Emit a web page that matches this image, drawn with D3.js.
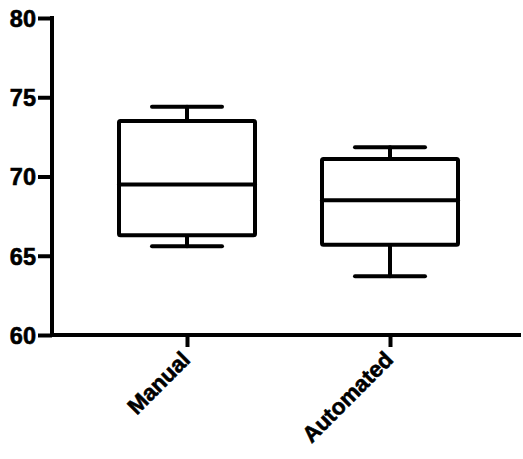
<!DOCTYPE html>
<html>
<head>
<meta charset="utf-8">
<script src="https://cdn.jsdelivr.net/npm/d3@7"></script>
<style>
  body { margin: 0; background: #fff; }
  text { font-family: "Liberation Sans", Arial, sans-serif; font-weight: bold; }
</style>
</head>
<body>
<div id="chart"></div>
<script>
// box plot: manual vs automated
var categories = ['Manual', 'Automated'];
var whisker_low = [65.6, 63.7];
var q1 = [66.3, 65.7];
var medians = [69.5, 68.5];
var q3 = [73.5, 71.1];
var whisker_high = [74.4, 71.85];
var y_ticks = [60, 65, 70, 75, 80];

var svg_size = {'width': 523, 'height': 459};

var svg = d3.select('#chart')
    .append('svg')
    .attr('width', svg_size.width)
    .attr('height', svg_size.height);

var y_scale = d3.scaleLinear()
    .domain([60, 80])
    .range([335, 18]);

var x_scale = d3.scalePoint()
    .domain(categories)
    .range([187, 390]);

var box_width = 136;
var cap_width = 70;

var boxes = categories.map(function(c, i){
    return {
        name: c,
        low: whisker_low[i],
        q1: q1[i],
        median: medians[i],
        q3: q3[i],
        high: whisker_high[i]
    };
});

// y axis
var y_axis = d3.axisLeft(y_scale)
    .tickValues(y_ticks)
    .tickSize(14)
    .tickPadding(2)
    .tickFormat(d3.format('d'));

var y_axis_g = svg.append('g')
    .attr('transform', 'translate(52,0)')
    .call(y_axis);

y_axis_g.select('.domain')
    .attr('d', 'M0,' + (y_scale(80) - 2) + 'V' + (y_scale(60) + 2))
    .style('stroke', '#000')
    .style('stroke-width', 4);
y_axis_g.selectAll('.tick line')
    .style('stroke', '#000')
    .style('stroke-width', 4);
y_axis_g.selectAll('.tick text')
    .style('font-size', '23.5px')
    .style('fill', '#000')
    .style('stroke', '#000')
    .style('stroke-width', 0.6)
    .attr('dy', '0.36em');

// x axis
var x_axis = d3.axisBottom(x_scale)
    .tickSize(12)
    .tickPadding(4);

var x_axis_g = svg.append('g')
    .attr('transform', 'translate(0,' + y_scale(60) + ')')
    .call(x_axis);

x_axis_g.select('.domain')
    .attr('d', 'M50,0H521')
    .style('stroke', '#000')
    .style('stroke-width', 4);
x_axis_g.selectAll('.tick line')
    .style('stroke', '#000')
    .style('stroke-width', 4);
x_axis_g.selectAll('.tick text')
    .style('font-size', '22.5px')
    .style('fill', '#000')
    .style('stroke', '#000')
    .style('stroke-width', 0.6)
    .attr('text-anchor', 'end')
    .attr('x', 0)
    .attr('y', 0)
    .attr('dy', 0)
    .attr('transform', 'translate(4,26) rotate(-45)');

// boxes
var box_g = svg.selectAll('.box')
    .data(boxes)
    .enter()
    .append('g')
    .classed('box', true)
    .attr('transform', function(d){ return 'translate(' + x_scale(d.name) + ',0)'; })
    .style('stroke', '#000')
    .style('stroke-width', 4)
    .style('fill', 'none')
    .style('stroke-linecap', 'round');

box_g.append('line')
    .attr('x1', 0).attr('x2', 0)
    .attr('y1', function(d){ return y_scale(d.high); })
    .attr('y2', function(d){ return y_scale(d.q3); });

box_g.append('line')
    .attr('x1', 0).attr('x2', 0)
    .attr('y1', function(d){ return y_scale(d.q1); })
    .attr('y2', function(d){ return y_scale(d.low); });

box_g.append('line')
    .attr('x1', -cap_width / 2).attr('x2', cap_width / 2)
    .attr('y1', function(d){ return y_scale(d.high); })
    .attr('y2', function(d){ return y_scale(d.high); });

box_g.append('line')
    .attr('x1', -cap_width / 2).attr('x2', cap_width / 2)
    .attr('y1', function(d){ return y_scale(d.low); })
    .attr('y2', function(d){ return y_scale(d.low); });

box_g.append('rect')
    .attr('x', -box_width / 2)
    .attr('width', box_width)
    .attr('y', function(d){ return y_scale(d.q3); })
    .attr('height', function(d){ return y_scale(d.q1) - y_scale(d.q3); })
    .attr('rx', 1.5)
    .style('fill', '#fff');

box_g.append('line')
    .attr('x1', -box_width / 2).attr('x2', box_width / 2)
    .attr('y1', function(d){ return y_scale(d.median); })
    .attr('y2', function(d){ return y_scale(d.median); });
</script>
</body>
</html>
